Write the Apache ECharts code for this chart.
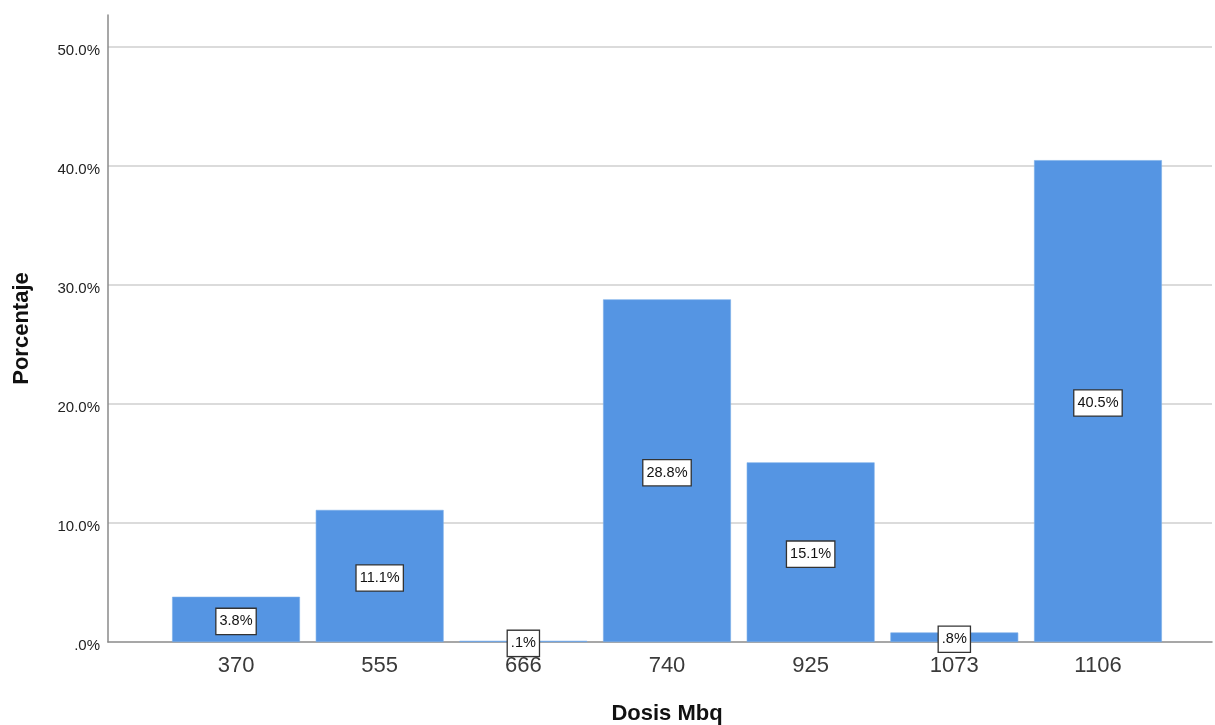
<!DOCTYPE html>
<html>
<head>
<meta charset="utf-8">
<script src="https://cdn.jsdelivr.net/npm/echarts@6/dist/echarts.min.js"></script>
<style>
  html, body { margin: 0; padding: 0; background: #fff; }
  #chart { width: 1215px; height: 725px; }
</style>
</head>
<body>
<div id="chart"></div>
<script>
// Dose categories (MBq) and share of patients per dose, in percent
const doses = ['370', '555', '666', '740', '925', '1073', '1106'];
const percents = [3.8, 11.1, 0.1, 28.8, 15.1, 0.8, 40.5];
const yTicks = [0, 10, 20, 30, 40, 50];

const yMax = 52.7;
const fontFamily = '"Liberation Sans", Arial, sans-serif';

function pctText(v) {
  // SPSS style: drop the leading zero (".1%", ".0%")
  const s = v.toFixed(1);
  return (s.startsWith('0') ? s.slice(1) : s) + '%';
}

const chart = echarts.init(document.getElementById('chart'), null, { renderer: 'canvas' });

chart.setOption({
  animation: false,
  backgroundColor: '#ffffff',
  textStyle: { fontFamily: fontFamily },
  grid: [
    // frame: y axis, gridlines, x axis line
    { left: 108, right: 3, top: 15, bottom: 83, outerBoundsMode: 'none', containLabel: false },
    // bars and category labels
    { left: 164.2, right: 45.2, top: 15, bottom: 83, outerBoundsMode: 'none', containLabel: false }
  ],
  xAxis: [
    {
      gridIndex: 0, type: 'value', min: 0, max: 1,
      axisLine: { show: true, lineStyle: { color: '#8a8a8a', width: 1.5 } },
      axisTick: { show: false }, axisLabel: { show: false }, splitLine: { show: false }
    },
    {
      gridIndex: 1, type: 'category', data: doses,
      axisLine: { show: false }, axisTick: { show: false },
      axisLabel: { color: '#3a3a3a', fontSize: 22, margin: 13, fontFamily: fontFamily },
      name: 'Dosis Mbq', nameLocation: 'middle', nameGap: 61,
      nameTextStyle: { color: '#111', fontSize: 22, fontWeight: 'bold', fontFamily: fontFamily }
    }
  ],
  yAxis: [
    {
      gridIndex: 0, type: 'value', min: 0, max: yMax, interval: 10,
      axisLine: { show: true, lineStyle: { color: '#8a8a8a', width: 1.5 } },
      axisTick: { show: false },
      axisLabel: {
        color: '#222', fontSize: 15, margin: 8, fontFamily: fontFamily,
        verticalAlign: 'top', lineHeight: 8,
        formatter: function (v) { return yTicks.indexOf(v) >= 0 ? pctText(v) : ''; }
      },
      splitLine: { show: true, showMinLine: false, showMaxLine: false,
        lineStyle: { color: '#cfcfcf', width: 1.5 } },
      name: 'Porcentaje', nameLocation: 'middle', nameGap: 75, nameRotate: 90,
      nameTextStyle: { color: '#111', fontSize: 22, fontWeight: 'bold', fontFamily: fontFamily }
    },
    {
      gridIndex: 1, type: 'value', min: 0, max: yMax, interval: 10,
      show: false, splitLine: { show: false }
    }
  ],
  series: [
    {
      type: 'bar',
      xAxisIndex: 1, yAxisIndex: 1,
      data: percents,
      barCategoryGap: '11%',
      itemStyle: { color: '#5595e3', borderColor: '#7aaeea', borderWidth: 0.6 },
      label: {
        show: true, position: 'inside', offset: [0, 2],
        formatter: function (p) { return pctText(p.value); },
        color: '#111', fontSize: 14.5, fontFamily: fontFamily,
        backgroundColor: '#ffffff', borderColor: '#333333', borderWidth: 1.3,
        padding: [6, 3, 4, 3]
      }
    }
  ]
});
</script>
</body>
</html>
